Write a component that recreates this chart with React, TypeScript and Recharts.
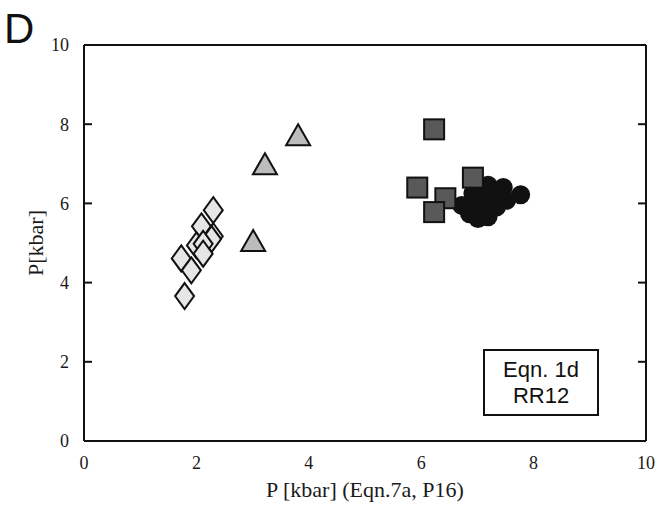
import React from "react";
import {
  ScatterChart,
  Scatter,
  XAxis,
  YAxis,
} from "recharts";

// pressure pairs: [P Eqn.7a/P16, P Eqn.1d/RR12], kbar
const diamondPts = [
  [2.3, 5.83],
  [2.09, 5.42],
  [2.3, 5.17],
  [2.27, 5.1],
  [2.0, 4.94],
  [2.12, 4.98],
  [2.12, 4.73],
  [1.73, 4.61],
  [1.91, 4.31],
  [1.79, 3.66],
];
const trianglePts = [
  [3.81, 7.72],
  [3.22, 6.99],
  [3.01, 5.05],
];
const circlePts = [
  [6.92, 6.25],
  [7.19, 6.46],
  [7.46, 6.4],
  [7.77, 6.22],
  [7.04, 6.08],
  [7.22, 6.16],
  [7.52, 6.08],
  [7.3, 6.3],
  [6.72, 5.95],
  [6.95, 5.95],
  [7.1, 5.85],
  [6.86, 5.74],
  [7.01, 5.62],
  [7.19, 5.66],
  [7.34, 5.91],
];
const squarePts = [
  [6.23, 7.87],
  [5.93, 6.4],
  [6.92, 6.65],
  [6.43, 6.13],
  [6.23, 5.78],
];
const axisTicks = [0, 2, 4, 6, 8, 10];

const toRows = (pts: number[][]) => pts.map(([x, y]) => ({ x, y }));

const INK = "#1a1a1a";
const serif = "'Liberation Serif', serif";
const tickFont = { fontFamily: serif, fontSize: 18, fill: INK };
const TICK_LEN = 8;

function Diamond({ cx, cy }: any) {
  return (
    <polygon
      points={`${cx},${cy - 13} ${cx + 9.5},${cy} ${cx},${cy + 13} ${cx - 9.5},${cy}`}
      fill="#e6e6e6"
      stroke="#111"
      strokeWidth={2}
    />
  );
}

function Triangle({ cx, cy }: any) {
  return (
    <polygon
      points={`${cx},${cy - 11} ${cx + 12},${cy + 10} ${cx - 12},${cy + 10}`}
      fill="#bcbcbc"
      stroke="#111"
      strokeWidth={2}
    />
  );
}

function Dot({ cx, cy }: any) {
  return <circle cx={cx} cy={cy} r={9.5} fill="#111" />;
}

function Square({ cx, cy }: any) {
  return (
    <rect
      x={cx - 10}
      y={cy - 10}
      width={20}
      height={20}
      fill="#595959"
      stroke="#111"
      strokeWidth={2}
    />
  );
}

// inward tick mark, drawn from the axis point toward the plot
const inwardTick = (dx: number, dy: number) => (props: any) => (
  <line
    x1={props.x}
    y1={props.y}
    x2={props.x + dx * TICK_LEN}
    y2={props.y + dy * TICK_LEN}
    stroke="#111"
    strokeWidth={2}
  />
);

// mirrored axes only carry the frame and the tick marks
const frameAxis = {
  type: "number" as const,
  domain: [0, 10],
  ticks: axisTicks,
  interval: 0,
  allowDataOverflow: true,
  mirror: true,
  tickLine: false,
  tickSize: 0,
  tickMargin: 0,
  stroke: "#111",
  strokeWidth: 2,
};

export default function App() {
  return (
    <div style={{ position: "absolute", left: 0, top: 0, width: 659, height: 505, background: "#fff" }}>
      <div
        style={{
          position: "absolute",
          left: 4,
          top: 1,
          fontFamily: "'Liberation Sans', Arial, sans-serif",
          fontSize: 42,
          color: "#111",
          lineHeight: "56px",
        }}
      >
        D
      </div>
      <ScatterChart
        width={659}
        height={505}
        margin={{ top: 45, right: 13, bottom: 0, left: 0 }}
      >
        <XAxis
          xAxisId="bottom"
          dataKey="x"
          type="number"
          domain={[0, 10]}
          ticks={axisTicks}
          interval={0}
          allowDataOverflow
          height={64}
          tickLine={false}
          tickSize={0}
          tickMargin={15}
          stroke="#111"
          strokeWidth={2}
          tick={tickFont}
          label={{
            value: "P [kbar] (Eqn.7a, P16)",
            position: "insideBottom",
            offset: 8,
            style: { fontFamily: serif, fontSize: 22, fill: INK },
          }}
        />
        <XAxis xAxisId="bottomFrame" orientation="bottom" height={2} tick={inwardTick(0, -1)} {...frameAxis} />
        <XAxis xAxisId="topFrame" orientation="top" height={2} tick={inwardTick(0, 1)} {...frameAxis} />
        <YAxis
          yAxisId="left"
          dataKey="y"
          type="number"
          domain={[0, 10]}
          ticks={axisTicks}
          interval={0}
          allowDataOverflow
          width={84}
          tickLine={false}
          tickSize={0}
          tickMargin={15}
          stroke="#111"
          strokeWidth={2}
          tick={tickFont}
          label={{
            value: "P[kbar]",
            angle: -90,
            position: "center",
            dx: -7,
            style: { fontFamily: serif, fontSize: 22, fill: INK },
          }}
        />
        <YAxis yAxisId="leftFrame" orientation="left" width={2} tick={inwardTick(1, 0)} {...frameAxis} />
        <YAxis yAxisId="rightFrame" orientation="right" width={2} tick={inwardTick(-1, 0)} {...frameAxis} />
        <Scatter
          xAxisId="bottom"
          yAxisId="left"
          data={toRows(diamondPts)}
          shape={<Diamond />}
          isAnimationActive={false}
        />
        <Scatter
          xAxisId="bottom"
          yAxisId="left"
          data={toRows(trianglePts)}
          shape={<Triangle />}
          isAnimationActive={false}
        />
        <Scatter
          xAxisId="bottom"
          yAxisId="left"
          data={toRows(circlePts)}
          shape={<Dot />}
          isAnimationActive={false}
        />
        <Scatter
          xAxisId="bottom"
          yAxisId="left"
          data={toRows(squarePts)}
          shape={<Square />}
          isAnimationActive={false}
        />
      </ScatterChart>
      <div
        style={{
          position: "absolute",
          left: 483,
          top: 349,
          width: 116,
          height: 67,
          boxSizing: "border-box",
          border: "2px solid #111",
          background: "#fff",
          fontFamily: "'Liberation Sans', Arial, sans-serif",
          fontSize: 22,
          lineHeight: "26px",
          color: "#111",
          textAlign: "center",
          paddingTop: 6,
        }}
      >
        Eqn. 1d
        <br />
        RR12
      </div>
    </div>
  );
}
